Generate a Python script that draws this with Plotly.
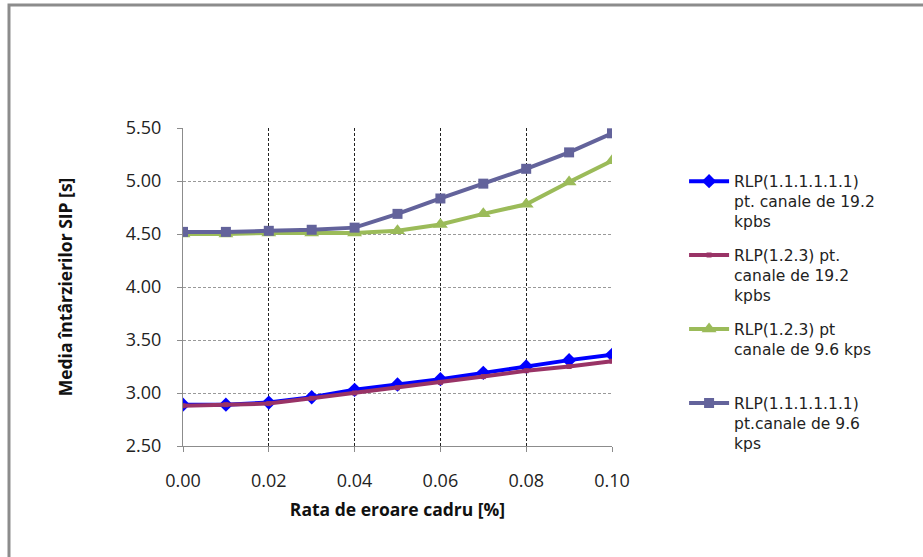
import plotly.graph_objects as go

x_vals = [0.00, 0.01, 0.02, 0.03, 0.04, 0.05, 0.06, 0.07, 0.08, 0.09, 0.10]

s1_name = "RLP(1.1.1.1.1.1)<br>pt. canale de 19.2<br>kpbs"
s1_vals = [2.89, 2.89, 2.91, 2.96, 3.03, 3.08, 3.13, 3.19, 3.25, 3.31, 3.36]

s2_name = "RLP(1.2.3) pt.<br>canale de 19.2<br>kpbs"
s2_vals = [2.88, 2.89, 2.90, 2.95, 3.00, 3.05, 3.10, 3.155, 3.21, 3.25, 3.30]

s3_name = "RLP(1.2.3) pt<br>canale de 9.6 kps<br> "
s3_vals = [4.50, 4.50, 4.51, 4.51, 4.51, 4.53, 4.59, 4.69, 4.78, 4.99, 5.19]

s4_name = "RLP(1.1.1.1.1.1)<br>pt.canale de 9.6<br>kps"
s4_vals = [4.52, 4.52, 4.53, 4.54, 4.56, 4.69, 4.835, 4.975, 5.115, 5.27, 5.45]

x_ticks = [0.00, 0.02, 0.04, 0.06, 0.08, 0.10]
y_ticks = [2.50, 3.00, 3.50, 4.00, 4.50, 5.00, 5.50]

fig = go.Figure()
fig.add_trace(go.Scatter(x=x_vals, y=s1_vals, name=s1_name, mode="lines+markers",
                         line=dict(color="#0000FF", width=4),
                         marker=dict(symbol="diamond", size=11, color="#0000FF"),
                         legendgroup="a"))
fig.add_trace(go.Scatter(x=x_vals, y=s2_vals, name=s2_name, mode="lines+markers",
                         line=dict(color="#993366", width=4),
                         marker=dict(symbol="square", size=5, color="#993366"),
                         legendgroup="b"))
fig.add_trace(go.Scatter(x=x_vals, y=s3_vals, name=s3_name, mode="lines+markers",
                         line=dict(color="#9BBB59", width=4),
                         marker=dict(symbol="triangle-up", size=13, color="#9BBB59"),
                         legendgroup="c"))
fig.add_trace(go.Scatter(x=x_vals, y=s4_vals, name=s4_name, mode="lines+markers",
                         line=dict(color="#63639B", width=4),
                         marker=dict(symbol="square", size=10, color="#63639B"),
                         legendgroup="d"))

fig.add_shape(type="rect", xref="paper", yref="paper",
              x0=-0.4056, x1=1.95, y0=-0.5, y1=1.3868,
              line=dict(color="#8c8c8c", width=3), fillcolor="rgba(0,0,0,0)", layer="below")

fig.update_layout(
    width=923, height=557,
    margin=dict(l=183, r=311, t=128, b=111),
    paper_bgcolor="white", plot_bgcolor="white",
    font=dict(family="Open Sans", color="#222222"),
    showlegend=True,
    legend=dict(x=1.168, y=0.885, xanchor="left", yanchor="top",
                font=dict(family="DejaVu Sans", size=15.5, color="#222222"),
                valign="top", tracegroupgap=10.5, itemwidth=40,
                bgcolor="rgba(0,0,0,0)"),
)
fig.update_xaxes(range=[0, 0.1], tickvals=x_ticks, tickformat=".2f",
                 showline=True, linecolor="#8c8c8c", linewidth=1,
                 ticks="outside", ticklen=5, tickcolor="#8c8c8c",
                 ticklabelstandoff=13,
                 showgrid=True, gridcolor="#222222", griddash="3px,2px", gridwidth=1,
                 zeroline=False,
                 tickfont=dict(family="Open Sans", size=18, color="#222222"),
                 title=dict(text="<b>Rata de eroare cadru [%]</b>", standoff=13,
                            font=dict(family="Open Sans", size=17.5, color="#111111")))
fig.update_yaxes(range=[2.5, 5.5], tickvals=y_ticks, tickformat=".2f",
                 showline=True, linecolor="#8c8c8c", linewidth=1,
                 ticks="outside", ticklen=5, tickcolor="#8c8c8c",
                 ticklabelstandoff=12,
                 showgrid=True, gridcolor="#999999", griddash="3px,2px", gridwidth=1,
                 zeroline=False,
                 tickfont=dict(family="Open Sans", size=18, color="#222222"),
                 title=dict(text="<b>Media întârzierilor SIP [s]</b>", standoff=48,
                            font=dict(family="Open Sans", size=17.5, color="#111111")))

fig.write_html("out.html")
